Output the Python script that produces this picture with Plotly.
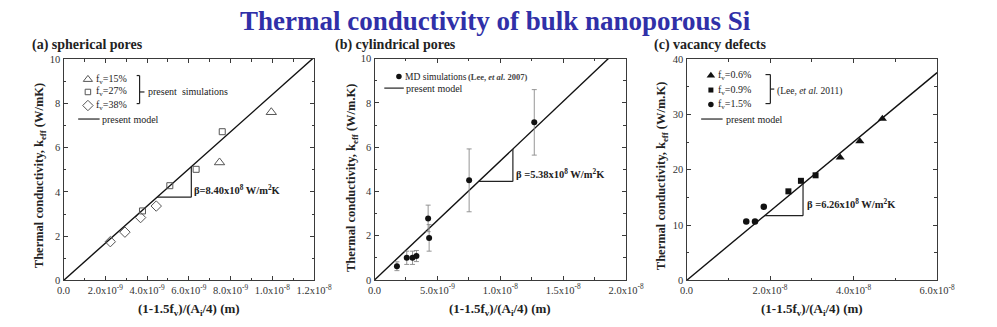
import plotly.graph_objects as go

# ---------------- data ----------------
# (a) spherical pores: MD results for three porosities, model slope beta_a
a_x_range = [0, 1.2e-8]
a_y_range = [0, 10]
a_f15_x = [9.95e-9, 7.47e-9]
a_f15_y = [7.6, 5.33]
a_f27_x = [7.6e-9, 6.35e-9, 5.09e-9, 3.78e-9]
a_f27_y = [6.72, 5.02, 4.28, 3.14]
a_f38_x = [2.24e-9, 2.94e-9, 3.69e-9, 4.44e-9]
a_f38_y = [1.75, 2.18, 2.84, 3.36]
beta_a = 8.40e8
a_xticks = [0, 2e-9, 4e-9, 6e-9, 8e-9, 1e-8, 1.2e-8]
a_xticktext = ["0.0", "2.0x10<sup>-9</sup>", "4.0x10<sup>-9</sup>", "6.0x10<sup>-9</sup>",
               "8.0x10<sup>-9</sup>", "1.0x10<sup>-8</sup>", "1.2x10<sup>-8</sup>"]
a_yticks = [0, 2, 4, 6, 8, 10]

# (b) cylindrical pores: MD simulations (Lee et al. 2007) with error bars
b_x_range = [0, 2.0e-8]
b_y_range = [0, 10]
b_md_x = [1.78e-9, 2.56e-9, 3.02e-9, 3.33e-9, 4.26e-9, 4.34e-9, 7.52e-9, 1.27e-8]
b_md_y = [0.62, 1.0, 1.0, 1.08, 2.78, 1.9, 4.5, 7.12]
b_md_err = [0.2, 0.3, 0.3, 0.25, 0.6, 0.6, 1.42, 1.48]
beta_b = 5.38e8
b_xticks = [0, 5e-9, 1e-8, 1.5e-8, 2e-8]
b_xticktext = ["0.0", "5.0x10<sup>-9</sup>", "1.0x10<sup>-8</sup>", "1.5x10<sup>-8</sup>",
               "2.0x10<sup>-8</sup>"]
b_yticks = [0, 2, 4, 6, 8, 10]

# (c) vacancy defects (Lee et al. 2011)
c_x_range = [0, 6.0e-8]
c_y_range = [0, 40]
c_f06_x = [4.69e-8, 4.15e-8, 3.68e-8]
c_f06_y = [29.2, 25.15, 22.2]
c_f09_x = [3.09e-8, 2.74e-8, 2.44e-8]
c_f09_y = [19.0, 18.0, 16.1]
c_f15_x = [1.85e-8, 1.64e-8, 1.43e-8]
c_f15_y = [13.3, 10.65, 10.65]
beta_c = 6.26e8
c_xticks = [0, 2e-8, 4e-8, 6e-8]
c_xticktext = ["0.0", "2.0x10<sup>-8</sup>", "4.0x10<sup>-8</sup>", "6.0x10<sup>-8</sup>"]
c_yticks = [0, 10, 20, 30, 40]

# slope-triangle anchors (base height, right-hand x)
a_tri = (3.76, 6.12e-9)
b_tri = (4.45, 1.10e-8)
c_tri = (11.7, 2.79e-8)

# ---------------- styling ----------------
W, H = 997, 327
SERIF = "Liberation Serif"
AX = "#3a3a3a"
TXT = "#222222"
MK = "#555555"
LEG = 10  # legend text size

fig = go.Figure()


def px_x(p):
    return p / W


def px_y(p):
    return 1 - p / H


panels = [
    dict(xa="x", ya="y", xd=[px_x(58), px_x(315)], yd=[px_y(285), px_y(56)],
         xr=a_x_range, yr=a_y_range, xt=a_xticks, xtt=a_xticktext, yt=a_yticks,
         xminor=1e-9, yminor=1),
    dict(xa="x2", ya="y2", xd=[px_x(377), px_x(635)], yd=[px_y(284.5), px_y(55.5)],
         xr=b_x_range, yr=b_y_range, xt=b_xticks, xtt=b_xticktext, yt=b_yticks,
         xminor=2.5e-9, yminor=1),
    dict(xa="x3", ya="y3", xd=[px_x(697), px_x(954)], yd=[px_y(285), px_y(56)],
         xr=c_x_range, yr=c_y_range, xt=c_xticks, xtt=c_xticktext, yt=c_yticks,
         xminor=1e-8, yminor=5),
]


def minor_vals(lo, hi, step):
    n = int(round((hi - lo) / step))
    return [lo + i * step for i in range(n + 1)]


layout_axes = {}
for i, p in enumerate(panels):
    k = "" if i == 0 else str(i + 1)
    common = dict(showline=True, linecolor=AX, linewidth=1.2, mirror="ticks",
                  ticks="inside", ticklen=4, tickwidth=1, tickcolor=AX,
                  showgrid=False, zeroline=False, fixedrange=True,
                  tickfont=dict(family=SERIF, size=10.5, color="#333333"))
    layout_axes["xaxis" + k] = dict(
        common, domain=p["xd"], range=p["xr"], anchor=p["ya"],
        tickmode="array", tickvals=p["xt"], ticktext=p["xtt"],
        minor=dict(tickvals=minor_vals(p["xr"][0], p["xr"][1], p["xminor"]),
                   ticks="inside", ticklen=2.5, tickcolor=AX, showgrid=False))
    layout_axes["yaxis" + k] = dict(
        common, domain=p["yd"], range=p["yr"], anchor=p["xa"],
        tickmode="array", tickvals=p["yt"], ticktext=[str(v) for v in p["yt"]],
        minor=dict(tickvals=minor_vals(p["yr"][0], p["yr"][1], p["yminor"]),
                   ticks="inside", ticklen=2.5, tickcolor=AX, showgrid=False))


def model_line(beta, xr, xa, ya):
    fig.add_trace(go.Scatter(x=[0, xr[1]], y=[0, beta * xr[1]], mode="lines",
                             line=dict(color="#111111", width=1.4),
                             xaxis=xa, yaxis=ya, showlegend=False, hoverinfo="skip"))


def pts(x, y, xa, ya, symbol, size, color, filled=True, err=None):
    mk = dict(symbol=symbol, size=size, color=color)
    if not filled:
        mk["line"] = dict(color=color, width=1)
    kw = {}
    if err is not None:
        kw["error_y"] = dict(type="data", array=err, color="#8a8a8a", thickness=0.9, width=2.5)
    fig.add_trace(go.Scatter(x=x, y=y, mode="markers", marker=mk, xaxis=xa, yaxis=ya,
                             showlegend=False, cliponaxis=False, **kw))


def key_marker(p, fx, fy, symbol, size, color, filled=True):
    # legend key placed at a fraction of the panel's data range
    x = p["xr"][0] + fx * (p["xr"][1] - p["xr"][0])
    y = p["yr"][0] + fy * (p["yr"][1] - p["yr"][0])
    pts([x], [y], p["xa"], p["ya"], symbol, size, color, filled)


# ---- (a) ----
pa, pb, pc = panels
model_line(beta_a, a_x_range, "x", "y")
pts(a_f15_x, a_f15_y, "x", "y", "triangle-up-open", 9, MK, False)
pts(a_f27_x, a_f27_y, "x", "y", "square-open", 6, MK, False)
pts(a_f38_x, a_f38_y, "x", "y", "diamond-open", 8, MK, False)

# ---- (b) ----
model_line(beta_b, b_x_range, "x2", "y2")
pts(b_md_x, b_md_y, "x2", "y2", "circle", 6, "#111111", err=b_md_err)

# ---- (c) ----
model_line(beta_c, c_x_range, "x3", "y3")
pts(c_f06_x, c_f06_y, "x3", "y3", "triangle-up", 8, "#111111")
pts(c_f09_x, c_f09_y, "x3", "y3", "square", 6, "#111111")
pts(c_f15_x, c_f15_y, "x3", "y3", "circle", 6.5, "#111111")

shapes = []
annotations = []


def slope_triangle(beta, tri, xa, ya):
    y0, x2 = tri
    x1 = y0 / beta
    shapes.append(dict(type="line", xref=xa, yref=ya, x0=x1, y0=y0, x1=x2, y1=y0,
                       line=dict(color="#222222", width=1.2)))
    shapes.append(dict(type="line", xref=xa, yref=ya, x0=x2, y0=y0, x1=x2, y1=beta * x2,
                       line=dict(color="#222222", width=1.2)))


slope_triangle(beta_a, a_tri, "x", "y")
slope_triangle(beta_b, b_tri, "x2", "y2")
slope_triangle(beta_c, c_tri, "x3", "y3")


def note(text, xref, yref, x, y, size=10, bold=False, xanchor="left", color=TXT, angle=0):
    if bold:
        text = "<b>" + text + "</b>"
    annotations.append(dict(text=text, xref=xref, yref=yref, x=x, y=y, showarrow=False,
                            xanchor=xanchor, yanchor="middle", textangle=angle,
                            borderpad=0, borderwidth=0,
                            font=dict(family=SERIF, size=size, color=color)))


def dline(xa, ya, x0, y0, x1, y1, w=1.2):
    shapes.append(dict(type="line", xref=xa + " domain", yref=ya + " domain",
                       x0=x0, y0=y0, x1=x1, y1=y1, line=dict(color="#222222", width=w)))


def fx(p, px):
    return (px - p["xd"][0] * W) / ((p["xd"][1] - p["xd"][0]) * W)


def fy(p, py):
    return ((1 - p["yd"][0]) * H - py) / ((p["yd"][1] - p["yd"][0]) * H)


beta_text = "\u03b2{sp}={v}x10<sup>8</sup> W/m<sup>2</sup>K"
note(beta_text.format(sp="", v="8.40"), "x domain", "y domain", fx(pa, 192), fy(pa, 191), 10.5, True)
note(beta_text.format(sp=" ", v="5.38"), "x2 domain", "y2 domain", fx(pb, 522), fy(pb, 174), 10.5, True)
note(beta_text.format(sp=" ", v="6.26"), "x3 domain", "y3 domain", fx(pc, 821), fy(pc, 205), 10.5, True)

# legend (a)
key_marker(pa, fx(pa, 83), fy(pa, 77), "triangle-up-open", 8, MK, False)
key_marker(pa, fx(pa, 83), fy(pa, 90), "square-open", 5.5, MK, False)
key_marker(pa, fx(pa, 83), fy(pa, 104), "diamond-open", 8, MK, False)
for ytxt, lab in [(77, "15%"), (90, "27%"), (104, "38%")]:
    note("f<sub>v</sub>=" + lab, "x domain", "y domain", fx(pa, 91), fy(pa, ytxt), LEG)
dline("x", "y", fx(pa, 133), fy(pa, 73), fx(pa, 136), fy(pa, 73))
dline("x", "y", fx(pa, 136), fy(pa, 73), fx(pa, 136), fy(pa, 102))
dline("x", "y", fx(pa, 133), fy(pa, 102), fx(pa, 136), fy(pa, 102))
dline("x", "y", fx(pa, 136), fy(pa, 90), fx(pa, 141), fy(pa, 90))
note("present  simulations", "x domain", "y domain", fx(pa, 145), fy(pa, 90), LEG)
dline("x", "y", fx(pa, 73), fy(pa, 118), fx(pa, 95), fy(pa, 118))
note("present model", "x domain", "y domain", fx(pa, 97), fy(pa, 118), LEG)

# legend (b)
key_marker(pb, fx(pb, 402), fy(pb, 74), "circle", 5.5, "#111111")
note("MD simulations", "x2 domain", "y2 domain", fx(pb, 408), fy(pb, 74), 9.5)
note("(Lee, <i>et al.</i> 2007)", "x2 domain", "y2 domain", fx(pb, 473), fy(pb, 74), 8.5, True,
     color="#444444")
dline("x2", "y2", fx(pb, 387), fy(pb, 86), fx(pb, 407), fy(pb, 86))
note("present model", "x2 domain", "y2 domain", fx(pb, 409), fy(pb, 86), LEG)

# legend (c)
key_marker(pc, fx(pc, 722), fy(pc, 73), "triangle-up", 7.5, "#111111")
key_marker(pc, fx(pc, 722), fy(pc, 88), "square", 5, "#111111")
key_marker(pc, fx(pc, 722), fy(pc, 103), "circle", 5.5, "#111111")
for ytxt, lab in [(73, "0.6%"), (88, "0.9%"), (103, "1.5%")]:
    note("f<sub>v</sub>=" + lab, "x3 domain", "y3 domain", fx(pc, 729), fy(pc, ytxt), LEG)
dline("x3", "y3", fx(pc, 778), fy(pc, 72), fx(pc, 783), fy(pc, 72))
dline("x3", "y3", fx(pc, 783), fy(pc, 72), fx(pc, 783), fy(pc, 102))
dline("x3", "y3", fx(pc, 778), fy(pc, 102), fx(pc, 783), fy(pc, 102))
dline("x3", "y3", fx(pc, 783), fy(pc, 87), fx(pc, 787), fy(pc, 87))
note("(Lee, <i>et al.</i> 2011)", "x3 domain", "y3 domain", fx(pc, 790), fy(pc, 89), 9.5)
dline("x3", "y3", fx(pc, 712), fy(pc, 118), fx(pc, 734), fy(pc, 118))
note("present model", "x3 domain", "y3 domain", fx(pc, 737), fy(pc, 118), LEG)

# panel titles, axis titles, main title
note("(a) spherical pores", "paper", "paper", px_x(26), px_y(41), 14, True)
note("(b) cylindrical pores", "paper", "paper", px_x(336), px_y(41), 14, True)
note("(c) vacancy defects", "paper", "paper", px_x(664), px_y(41), 14, True)

xtitle = "(1-1.5f<sub>v</sub>)/(A<sub>i</sub>/4) (m)"
for p in panels:
    note(xtitle, "paper", "paper", (p["xd"][0] + p["xd"][1]) / 2, px_y(315), 13, True,
         xanchor="center")

ytitle = "Thermal conductivity, k<sub>eff</sub> {u}"
note(ytitle.format(u="(W/mK)"), "paper", "paper", px_x(34), px_y(177), 12.5, True,
     xanchor="center", angle=-90)
note(ytitle.format(u="(W/m.K)"), "paper", "paper", px_x(354), px_y(179), 12.5, True,
     xanchor="center", angle=-90)
note(ytitle.format(u="(W/m.K)"), "paper", "paper", px_x(672), px_y(177), 12.5, True,
     xanchor="center", angle=-90)

note("Thermal conductivity of bulk nanoporous Si", "paper", "paper", px_x(501), px_y(17),
     27, True, xanchor="center", color="#3030a8")

fig.update_layout(
    width=W, height=H, margin=dict(l=0, r=0, t=0, b=0),
    paper_bgcolor="white", plot_bgcolor="white",
    showlegend=False, shapes=shapes, annotations=annotations,
    **layout_axes,
)

fig.write_html("out.html", config={"displayModeBar": False})
